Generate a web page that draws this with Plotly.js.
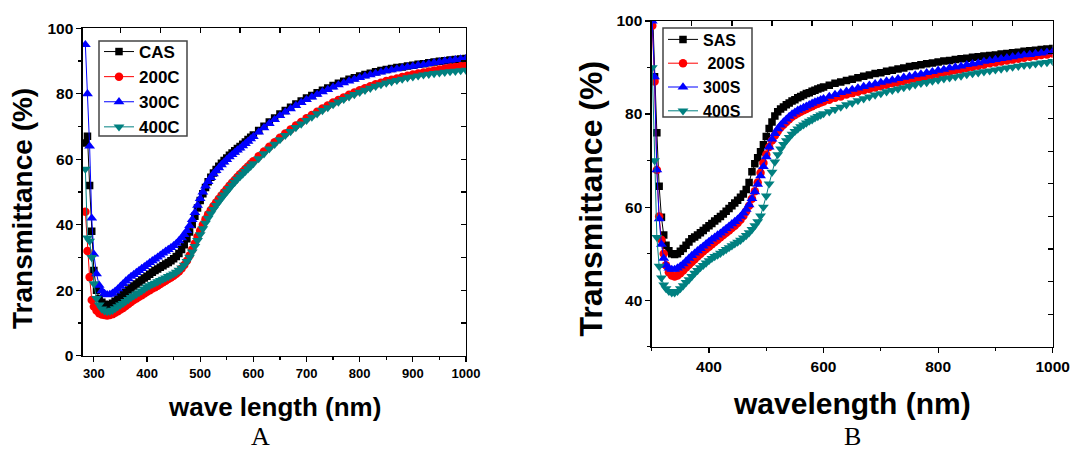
<!DOCTYPE html>
<html>
<head>
<meta charset="utf-8">
<script src="https://cdn.plot.ly/plotly-3.0.1.min.js"></script>
<style>
html,body{margin:0;padding:0;background:#fff;}
#chart{width:1070px;height:451px;}
</style>
</head>
<body>
<div id="chart"></div>
<script>
// ---------- Panel A data ----------
const wlA = [284,288,292,296,300,
 305,310,315,320,325,330,335,340,345,350,
 355,360,365,370,375,380,385,390,395,400,
 405,410,415,420,425,430,435,440,445,450,
 455,460,465,470,475,480,485,490,495,500,
 505,510,515,520,525,530,535,540,545,550,
 555,560,565,570,575,580,585,590,595,600,
 610,620,630,640,650,660,670,680,690,700,
 710,720,730,740,750,760,770,780,790,800,
 810,820,830,840,850,860,870,880,890,900,
 910,920,930,940,950,960,970,980,990,1000];

const CAS = [65,67,52,38,26,
 20,17.5,16.3,15.7,15.5,15.6,16,16.6,17.3,18,
 18.7,19.4,20.1,20.7,21.3,21.9,22.5,23.1,23.7,24.3,
 24.9,25.5,26,26.5,27,27.5,28,28.5,29,29.6,
 30.3,31.2,32.4,33.9,35.7,37.8,40.1,42.6,45.1,47.4,
 49.5,51.4,53.1,54.5,55.8,56.9,57.9,58.8,59.6,60.4,
 61.2,61.9,62.6,63.3,63.9,64.6,65.3,66,66.7,67.4,
 68.8,70.1,71.4,72.6,73.8,74.9,75.9,76.9,77.8,78.7,
 79.5,80.3,81.1,81.8,82.5,83.2,83.8,84.4,84.9,85.4,
 85.9,86.3,86.7,87.1,87.4,87.7,88,88.2,88.5,88.7,
 89,89.2,89.5,89.7,89.9,90.1,90.3,90.5,90.6,90.8];

const C200 = [44,32,24,17,15,
 13.8,13,12.6,12.4,12.3,12.4,12.7,13.1,13.6,14.1,
 14.6,15.2,15.8,16.4,17,17.5,18,18.5,19,19.5,
 20,20.5,20.9,21.4,21.9,22.4,22.9,23.4,23.9,24.4,
 25,25.7,26.6,27.7,29,30.6,32.4,34.3,36.3,38.2,
 40,41.7,43.2,44.5,45.7,46.8,47.9,48.9,49.9,50.9,
 51.9,52.8,53.7,54.6,55.4,56.2,57,57.8,58.6,59.4,
 60.9,62.4,63.8,65.2,66.6,67.9,69.1,70.3,71.4,72.5,
 73.5,74.5,75.5,76.4,77.3,78.1,78.9,79.7,80.4,81.1,
 81.7,82.3,82.9,83.4,83.9,84.3,84.7,85.1,85.5,85.9,
 86.2,86.5,86.8,87.1,87.4,87.7,88,88.2,88.4,88.6];

const C300 = [95,80,64,42,31,
 25,21.5,19.8,19,18.6,18.7,19.1,19.7,20.4,21.2,
 22,22.8,23.5,24.2,24.8,25.4,26,26.6,27.2,27.8,
 28.4,29,29.5,30.1,30.7,31.3,31.9,32.4,33,33.6,
 34.3,35.1,36,37,38.2,39.7,41.6,43.7,45.9,48,
 50,51.8,53.2,54.4,55.5,56.5,57.4,58.3,59.1,59.9,
 60.7,61.4,62.1,62.8,63.4,64.1,64.8,65.5,66.2,66.9,
 68.3,69.6,70.9,72.1,73.3,74.4,75.4,76.4,77.3,78.2,
 79,79.8,80.6,81.3,82,82.7,83.3,83.9,84.4,84.9,
 85.4,85.8,86.2,86.6,87,87.3,87.6,87.9,88.2,88.4,
 88.7,88.9,89.2,89.5,89.7,90,90.2,90.4,90.6,90.8];

const C400 = [57,36,35,30,22,
 17.5,15.5,14.3,13.7,13.5,13.6,13.9,14.4,15,15.5,
 16,16.6,17.2,17.8,18.3,18.8,19.3,19.8,20.4,21,
 21.4,21.8,22.2,22.6,23,23.4,23.8,24.2,24.6,25,
 25.5,26.1,26.8,27.7,28.8,30.1,31.7,33.4,35.2,37,
 38.8,40.5,42,43.4,44.7,45.9,47,48.1,49.1,50.1,
 51.1,52.1,53,53.9,54.7,55.5,56.3,57.1,57.9,58.7,
 60.2,61.7,63.2,64.6,66,67.3,68.5,69.7,70.8,71.9,
 72.9,73.9,74.9,75.8,76.7,77.5,78.3,79.1,79.8,80.5,
 81.1,81.7,82.3,82.8,83.3,83.7,84.1,84.5,84.9,85.2,
 85.5,85.8,86,86.2,86.4,86.6,86.8,86.9,87.1,87.2];

// ---------- Panel B data ----------
const wlB = [301,305,309,313,317,321,325,
 330,335,340,345,350,355,360,365,370,375,
 380,385,390,395,400,405,410,415,420,425,
 430,435,440,445,450,455,460,465,470,475,
 480,485,490,495,500,505,510,515,520,525,
 530,535,540,545,550,555,560,565,570,575,
 580,585,590,595,600,
 610,620,630,640,650,660,670,680,690,700,
 710,720,730,740,750,760,770,780,790,800,
 810,820,830,840,850,860,870,880,890,900,
 910,920,930,940,950,960,970,980,990,1000];

const SAS = [104,88,76,64.5,57.8,54,51.8,
 50.6,50,49.8,50,50.5,51.1,51.8,52.5,53.2,53.6,
 54,54.5,55,55.5,56,56.5,57,57.5,58,58.5,
 59.1,59.7,60.3,60.9,61.5,62.1,62.8,63.8,65.3,67.6,
 69.3,70.6,71.9,73.4,75.2,76.9,78.3,79.6,80.5,81.1,
 81.5,82,82.4,82.8,83.1,83.5,83.8,84.1,84.4,84.6,
 84.9,85.1,85.4,85.6,85.8,
 86.2,86.6,86.9,87.2,87.5,87.8,88.1,88.4,88.7,88.9,
 89.2,89.4,89.7,89.9,90.2,90.4,90.6,90.8,91,91.2,
 91.4,91.5,91.7,91.9,92,92.2,92.3,92.5,92.6,92.7,
 92.9,93,93.2,93.3,93.5,93.6,93.7,93.9,94,94.1];

const S200 = [99,87,68,58,53,50,47.5,
 46,45.3,45.1,45.3,45.8,46.4,47,47.6,48.2,48.8,
 49.4,49.9,50.5,51,51.5,52,52.5,53,53.5,54,
 54.5,55,55.5,56,56.6,57.3,58.1,59.1,60.3,61.8,
 63.4,65.3,67.4,69.5,71.3,72.9,74.3,75.4,76.3,77.1,
 77.7,78.3,78.9,79.4,79.8,80.2,80.5,80.8,81.1,81.4,
 81.7,82,82.2,82.5,82.7,
 83.1,83.5,83.8,84.2,84.5,84.8,85.1,85.4,85.7,86,
 86.3,86.6,86.8,87.1,87.4,87.6,87.9,88.1,88.4,88.6,
 88.9,89.1,89.4,89.6,89.9,90.1,90.4,90.6,90.9,91.1,
 91.3,91.5,91.7,91.9,92.1,92.3,92.5,92.7,92.8,93];

const S300 = [100,88,68,57.5,52,49,47.5,
 46.9,46.6,46.6,46.9,47.3,47.8,48.4,49,49.6,50.1,
 50.6,51.1,51.6,52.1,52.6,53.1,53.5,54,54.4,54.9,
 55.4,55.9,56.4,56.9,57.4,58,58.7,59.5,60.5,61.8,
 63.3,64.9,66.7,68.7,70.8,72.9,74.6,75.8,76.8,77.6,
 78.3,78.9,79.5,80,80.4,80.8,81.1,81.4,81.7,82,
 82.3,82.6,82.8,83.1,83.3,
 83.8,84.2,84.6,84.9,85.3,85.6,85.9,86.2,86.5,86.8,
 87.1,87.3,87.6,87.9,88.1,88.4,88.6,88.9,89.1,89.4,
 89.6,89.9,90.1,90.3,90.6,90.8,91,91.3,91.5,91.7,
 91.9,92.1,92.3,92.5,92.7,92.8,93,93.1,93.3,93.4];

const S400 = [90,70,53.5,47.3,44.8,43.3,42.5,
 41.9,41.6,41.6,41.9,42.5,43.1,43.8,44.4,45.1,45.8,
 46.4,47,47.5,48,48.5,49,49.4,49.7,50.1,50.5,
 50.9,51.3,51.7,52.1,52.5,52.9,53.4,53.9,54.5,55.2,
 56,56.9,58.1,60,62.4,65,67.5,69.7,71.3,72.5,
 73.5,74.3,75,75.7,76.3,76.8,77.3,77.7,78.1,78.5,
 78.8,79.2,79.5,79.8,80.1,
 80.5,81,81.5,82,82.4,82.9,83.3,83.7,84.1,84.4,
 84.8,85.1,85.4,85.7,86,86.3,86.6,86.8,87.1,87.3,
 87.6,87.8,88,88.2,88.5,88.7,88.9,89.1,89.3,89.5,
 89.7,89.9,90.1,90.3,90.5,90.6,90.8,91,91.1,91.3];

const namesA = ['CAS','200C','300C','400C'];
const namesB = ['SAS','\u00A0200S','300S','400S'];
const seriesA = [CAS, C200, C300, C400];
const seriesB = [SAS, S200, S300, S400];

// ---------- styling ----------
const W = 1070, H = 451;
const colors = ['#000000','#ff0000','#0000ff','#008080'];
const symbols = ['square','circle','triangle-up','triangle-down'];
const msizes = [7.5,8.5,9.5,9.5];
const FONT = 'Liberation Sans, Arial, Helvetica, sans-serif';

function px(x){return x/W;}
function py(y){return 1-y/H;}

const traces = [];
seriesA.forEach((s,i)=>traces.push({
  x: wlA, y: s, name: namesA[i], type:'scatter', mode:'lines+markers',
  xaxis:'x', yaxis:'y', legend:'legend',
  line:{color:colors[i], width:1},
  marker:{symbol:symbols[i], size:msizes[i], color:colors[i], line:{width:0}}
}));
seriesB.forEach((s,i)=>traces.push({
  x: wlB, y: s, name: namesB[i], type:'scatter', mode:'lines+markers',
  xaxis:'x2', yaxis:'y2', legend:'legend2',
  line:{color:colors[i], width:1},
  marker:{symbol:symbols[i], size:msizes[i], color:colors[i], line:{width:0}}
}));
// empty traces so the mirror (top/right) axes get drawn
traces.push({x:[], y:[], xaxis:'x3', yaxis:'y3', showlegend:false, type:'scatter', hoverinfo:'skip'});
traces.push({x:[], y:[], xaxis:'x4', yaxis:'y4', showlegend:false, type:'scatter', hoverinfo:'skip'});

const tickFontAx = {family:FONT, size:13, color:'#000', weight:'bold'};
const tickFontAy = {family:FONT, size:15.5, color:'#000', weight:'bold'};
const tickFontB = {family:FONT, size:15.5, color:'#000', weight:'bold'};
const axBase = {showline:true, linecolor:'#000', linewidth:1.3, showgrid:false, zeroline:false,
  tickcolor:'#000', tickwidth:1.2, fixedrange:true, tickmode:'linear'};

const domAx = [px(82.7), px(466)];
const domAy = [py(355.7), py(28.3)];
const domBx = [px(651.7), px(1052.7)];
const domBy = [py(346.7), py(21)];

const legendBase = {xanchor:'left', yanchor:'top', bgcolor:'rgba(0,0,0,0)',
  borderwidth:0, itemwidth:30, tracegroupgap:0};

const layout = {
  width:W, height:H, autosize:false,
  margin:{l:0,r:0,t:0,b:0,pad:0},
  paper_bgcolor:'#fff', plot_bgcolor:'#fff',
  showlegend:true,
  xaxis: Object.assign({}, axBase, {domain:domAx, anchor:'y', range:[279,1000],
    ticks:'outside', ticklen:5, tick0:300, dtick:100, tickfont:tickFontAx,
    minor:{ticks:'outside', ticklen:3, tick0:300, dtick:50, tickcolor:'#000', tickwidth:1.2}}),
  yaxis: Object.assign({}, axBase, {domain:domAy, anchor:'x', range:[0,100],
    ticks:'outside', ticklen:5, tick0:0, dtick:20, tickfont:tickFontAy,
    minor:{ticks:'outside', ticklen:3, tick0:0, dtick:10, tickcolor:'#000', tickwidth:1.2}}),
  xaxis3: Object.assign({}, axBase, {overlaying:'x', anchor:'y', side:'top', range:[279,1000],
    ticks:'inside', ticklen:5, tick0:350, dtick:75, showticklabels:false}),
  yaxis3: Object.assign({}, axBase, {overlaying:'y', anchor:'x', side:'right', range:[0,100],
    ticks:'inside', ticklen:5, tick0:0, dtick:10, showticklabels:false}),

  xaxis2: Object.assign({}, axBase, {domain:domBx, anchor:'y2', range:[300,1000],
    ticks:'outside', ticklen:5, tick0:400, dtick:200, tickfont:tickFontB,
    minor:{ticks:'outside', ticklen:3, tick0:300, dtick:100, tickcolor:'#000', tickwidth:1.2}}),
  yaxis2: Object.assign({}, axBase, {domain:domBy, anchor:'x2', range:[30,100],
    ticks:'outside', ticklen:5, tick0:40, dtick:20, tickfont:tickFontB,
    minor:{ticks:'outside', ticklen:3, tick0:30, dtick:10, tickcolor:'#000', tickwidth:1.2}}),
  xaxis4: Object.assign({}, axBase, {overlaying:'x2', anchor:'y2', side:'top', range:[300,1000],
    ticks:'inside', ticklen:5, tick0:300, dtick:70, showticklabels:false}),
  yaxis4: Object.assign({}, axBase, {overlaying:'y2', anchor:'x2', side:'right', range:[30,100],
    ticks:'inside', ticklen:5, tick0:30, dtick:7, showticklabels:false}),

  legend: Object.assign({}, legendBase, {x:px(99), y:py(34),
    font:{family:FONT, size:17, color:'#000', weight:'bold'}}),
  legend2: Object.assign({}, legendBase, {x:px(663), y:py(22.5),
    font:{family:FONT, size:16, color:'#000', weight:'bold'}}),

  shapes:[
    {type:'rect', xref:'paper', yref:'paper', x0:px(99), x1:px(187), y0:py(136), y1:py(41),
     line:{color:'#444', width:1.5}, fillcolor:'rgba(0,0,0,0)', layer:'above'},
    {type:'rect', xref:'paper', yref:'paper', x0:px(663), x1:px(752), y0:py(117), y1:py(28),
     line:{color:'#444', width:1.5}, fillcolor:'rgba(0,0,0,0)', layer:'above'}
  ],

  annotations:[
    {text:'Transmittance (%)', xref:'paper', yref:'paper', x:px(23), y:py(209), textangle:-90,
     showarrow:false, xanchor:'center', yanchor:'middle',
     font:{family:FONT, size:28, color:'#000', weight:'bold'}},
    {text:'wave length (nm)', xref:'paper', yref:'paper', x:px(275), y:py(407),
     showarrow:false, xanchor:'center', yanchor:'middle',
     font:{family:FONT, size:26, color:'#000', weight:'bold'}},
    {text:'Transmittance (%)', xref:'paper', yref:'paper', x:px(590), y:py(198.5), textangle:-90,
     showarrow:false, xanchor:'center', yanchor:'middle',
     font:{family:FONT, size:32, color:'#000', weight:'bold'}},
    {text:'wavelength (nm)', xref:'paper', yref:'paper', x:px(852), y:py(403),
     showarrow:false, xanchor:'center', yanchor:'middle',
     font:{family:FONT, size:30, color:'#000', weight:'bold'}},
    {text:'A', xref:'paper', yref:'paper', x:px(260), y:py(436), borderpad:0,
     showarrow:false, xanchor:'center', yanchor:'middle',
     font:{family:'Liberation Serif, Times New Roman, serif', size:26, color:'#000'}},
    {text:'B', xref:'paper', yref:'paper', x:px(852), y:py(436), borderpad:0,
     showarrow:false, xanchor:'center', yanchor:'middle',
     font:{family:'Liberation Serif, Times New Roman, serif', size:26, color:'#000'}}
  ]
};

Plotly.newPlot('chart', traces, layout, {displayModeBar:false, staticPlot:true});
</script>
</body>
</html>
